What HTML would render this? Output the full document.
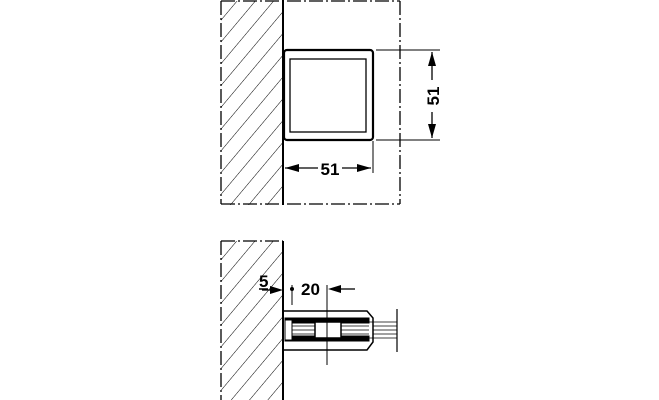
<!DOCTYPE html>
<html><head><style>body{margin:0;background:#fff}svg{display:block}</style></head><body>
<svg width="659" height="400" viewBox="0 0 659 400" xmlns="http://www.w3.org/2000/svg">
<defs>
<pattern id="h" patternUnits="userSpaceOnUse" width="14" height="14" patternTransform="rotate(40)">
<line x1="0" y1="0" x2="0" y2="14" stroke="#000" stroke-width="1"/>
</pattern>
</defs>
<g stroke="#000" fill="none">
<rect x="221" y="1" width="62" height="204" fill="url(#h)" stroke="none"/>
<g stroke-width="1.3" stroke-dasharray="14,3,2,3">
<line x1="221" y1="1" x2="400" y2="1"/>
<line x1="221" y1="1" x2="221" y2="204"/>
<line x1="221" y1="204" x2="400" y2="204"/>
<line x1="400" y1="1" x2="400" y2="204"/>
</g>
<line x1="283" y1="0" x2="283" y2="205" stroke-width="2"/>
<rect x="284" y="50" width="89" height="90" rx="3" stroke-width="2.2"/>
<rect x="290" y="59" width="76" height="73" stroke-width="1.3"/>
<line x1="376" y1="50" x2="440" y2="50"/>
<line x1="376" y1="140" x2="440" y2="140"/>
<line x1="432" y1="52" x2="432" y2="80" stroke-width="1.3"/>
<line x1="432" y1="112" x2="432" y2="138" stroke-width="1.3"/>
<line x1="373" y1="141" x2="373" y2="173"/>
<line x1="285" y1="168" x2="318" y2="168" stroke-width="1.3"/>
<line x1="342" y1="168" x2="371" y2="168" stroke-width="1.3"/>
<rect x="221" y="241" width="62" height="159" fill="url(#h)" stroke="none"/>
<g stroke-width="1.3" stroke-dasharray="14,3,2,3">
<line x1="221" y1="241" x2="283" y2="241"/>
<line x1="221" y1="241" x2="221" y2="400"/>
</g>
<line x1="283" y1="241" x2="283" y2="400" stroke-width="2"/>
<path d="M283 311 H367 L373 318 V342 L367 350 H283" stroke-width="1.5"/>
<rect x="285" y="318" width="84" height="5" fill="#000"/>
<rect x="285" y="336" width="84" height="5" fill="#000"/>
<rect x="285" y="320" width="7" height="20" fill="#fff"/>
<rect x="315" y="322" width="26" height="16" fill="#fff" stroke-width="1.5"/>
<g stroke-width="0.8">
<line x1="292" y1="326" x2="315" y2="326"/><line x1="292" y1="330" x2="315" y2="330"/><line x1="292" y1="334" x2="315" y2="334"/>
<line x1="341" y1="326" x2="369" y2="326"/><line x1="341" y1="330" x2="369" y2="330"/><line x1="341" y1="334" x2="369" y2="334"/>
<line x1="369" y1="322" x2="397" y2="322"/><line x1="373" y1="326" x2="397" y2="326"/><line x1="373" y1="330" x2="397" y2="330"/><line x1="373" y1="334" x2="397" y2="334"/><line x1="369" y1="338" x2="397" y2="338"/>
</g>
<line x1="397" y1="309" x2="397" y2="352" stroke-width="1.2"/>
<line x1="327" y1="285" x2="327" y2="365"/>
<line x1="292" y1="285" x2="292" y2="305"/>
<line x1="262" y1="290" x2="276" y2="290" stroke-width="1.3"/>
<line x1="340" y1="289" x2="355" y2="289" stroke-width="1.3"/>
</g>
<g fill="#000">
<polygon points="432,52 428,66 436,66"/>
<polygon points="432,138 428,124 436,124"/>
<polygon points="285,168 299,164 299,172"/>
<polygon points="371,168 357,164 357,172"/>
<polygon points="283,290 270,286 270,294"/>
<polygon points="328,289 341,285 341,293"/>
<circle cx="292" cy="289" r="2"/>
</g>
<g font-family="Liberation Sans, sans-serif" font-weight="bold" font-size="17" fill="#000">
<text x="330" y="175" text-anchor="middle">51</text>
<text transform="translate(439,96) rotate(-90)" text-anchor="middle">51</text>
<text x="259" y="287">5</text>
<text x="301" y="295">20</text>
</g>
<line x1="259" y1="289" x2="268" y2="289" stroke="#000" stroke-width="1.5"/>
</svg>
</body></html>
